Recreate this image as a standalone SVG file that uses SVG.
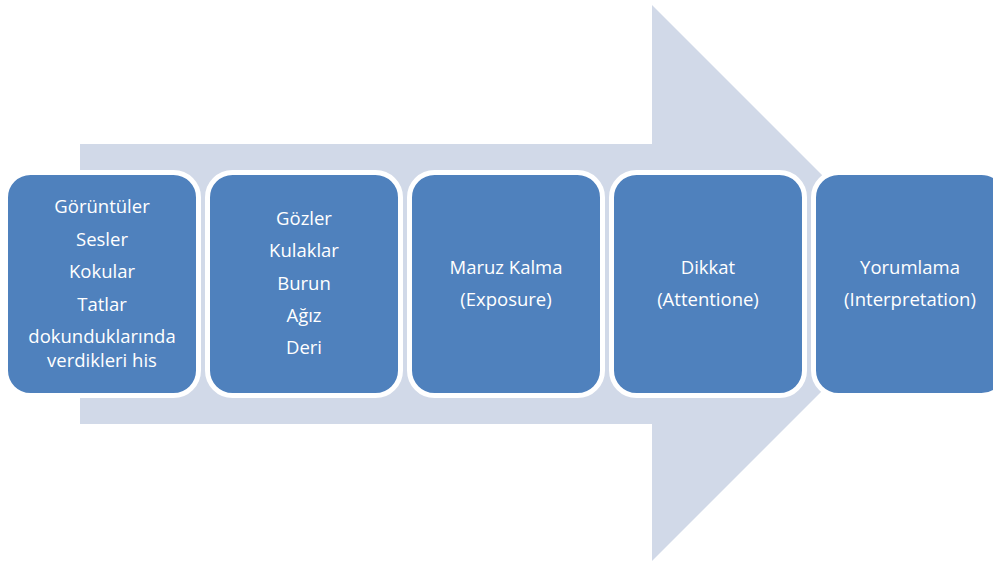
<svg xmlns="http://www.w3.org/2000/svg" width="993" height="562" viewBox="0 0 993 562">
  <style>
    .box { fill: #4F81BD; stroke: #FFFFFF; stroke-width: 5; }
    .lbl { font-family: "Open Sans", "Liberation Sans", sans-serif; font-size: 18.5px; fill: #FFFFFF; text-anchor: middle; }
  </style>
  <!-- background process arrow -->
  <g id="process-arrow">
    <polygon points="80,144 652,144 652,5 930,283 652,561 652,424 80,424" fill="#D1D9E8"/>
  </g>
  <g id="connectors"></g>
  <g id="node-stimuli">
    <rect class="box" x="5.5" y="172.5" width="193" height="223" rx="25"/>
    <text class="lbl" x="102" y="213">Görüntüler</text>
    <text class="lbl" x="102" y="246">Sesler</text>
    <text class="lbl" x="102" y="278">Kokular</text>
    <text class="lbl" x="102" y="311">Tatlar</text>
    <text class="lbl" x="102" y="343">dokunduklarında</text>
    <text class="lbl" x="102" y="367">verdikleri his</text>
  </g>
  <g id="node-senses">
    <rect class="box" x="207.5" y="172.5" width="193" height="223" rx="25"/>
    <text class="lbl" x="304" y="225">Gözler</text>
    <text class="lbl" x="304" y="257">Kulaklar</text>
    <text class="lbl" x="304" y="290">Burun</text>
    <text class="lbl" x="304" y="322">Ağız</text>
    <text class="lbl" x="304" y="354">Deri</text>
  </g>
  <g id="node-exposure">
    <rect class="box" x="409.5" y="172.5" width="193" height="223" rx="25"/>
    <text class="lbl" x="506" y="274">Maruz Kalma</text>
    <text class="lbl" x="506" y="306">(Exposure)</text>
  </g>
  <g id="node-attention">
    <rect class="box" x="611.5" y="172.5" width="193" height="223" rx="25"/>
    <text class="lbl" x="708" y="274">Dikkat</text>
    <text class="lbl" x="708" y="306">(Attentione)</text>
  </g>
  <g id="node-interpretation">
    <rect class="box" x="813.5" y="172.5" width="193" height="223" rx="25"/>
    <text class="lbl" x="910" y="274">Yorumlama</text>
    <text class="lbl" x="910" y="306">(Interpretation)</text>
  </g>
</svg>
